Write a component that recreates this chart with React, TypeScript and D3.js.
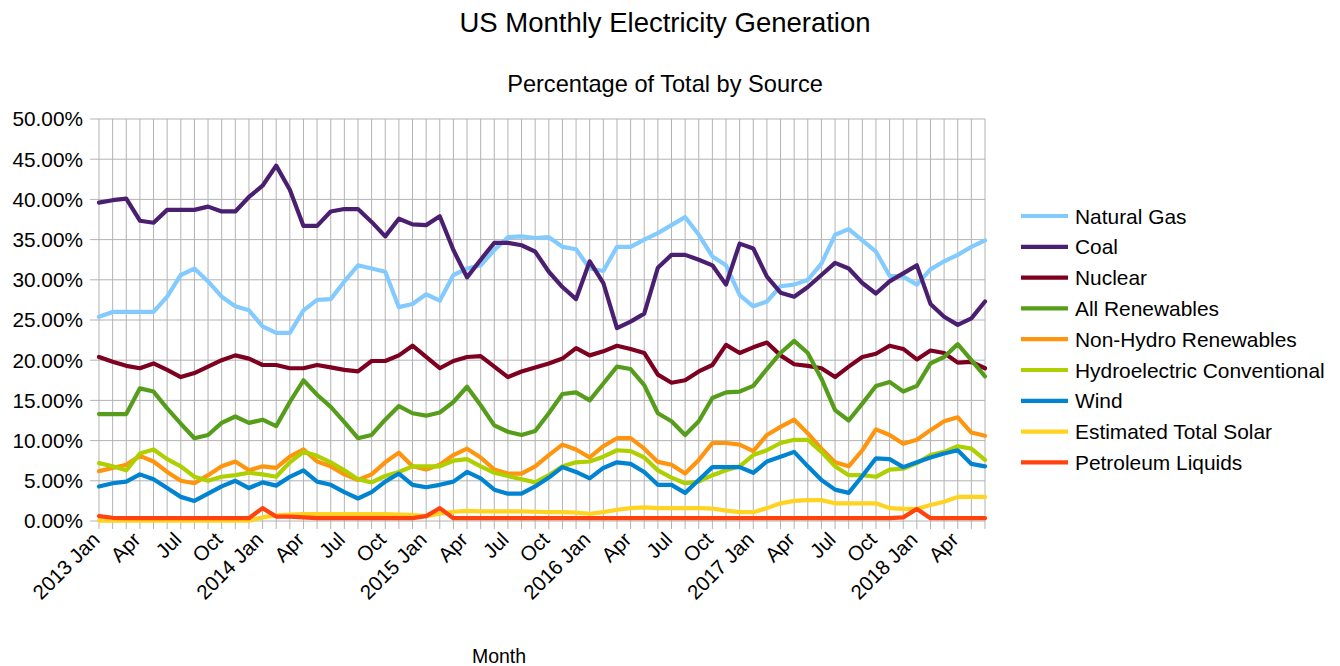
import React from "react";
import * as d3 from "d3";

const YEARS = [2013, 2014, 2015, 2016, 2017, 2018];
const MONTH_NAMES = ["Jan", "Feb", "Mar", "Apr", "May", "Jun", "Jul", "Aug", "Sep", "Oct", "Nov", "Dec"];
const categories: string[] = [];
YEARS.forEach((y) => MONTH_NAMES.forEach((m, mi) => {
  if (y === 2018 && mi > 5) return;
  categories.push(`${y} ${m}`);
}));

const yTicks = [0, 5, 10, 15, 20, 25, 30, 35, 40, 45, 50];

const naturalGas = [25.4, 26.0, 26.0, 26.0, 26.0, 27.9, 30.6, 31.4, 29.8, 27.9, 26.7, 26.2, 24.2, 23.4, 23.4, 26.2, 27.5, 27.6, 29.8, 31.8, 31.4, 31.0, 26.6, 27.0, 28.2, 27.4, 30.6, 31.4, 31.8, 33.7, 35.3, 35.4, 35.2, 35.3, 34.1, 33.8, 31.4, 31.1, 34.1, 34.1, 35.0, 35.8, 36.8, 37.8, 35.6, 32.9, 31.8, 28.1, 26.7, 27.3, 29.2, 29.4, 30.0, 32.0, 35.6, 36.3, 34.9, 33.5, 30.5, 30.4, 29.4, 31.3, 32.3, 33.1, 34.1, 34.9];
const coal = [39.6, 39.9, 40.1, 37.35, 37.1, 38.7, 38.7, 38.7, 39.1, 38.5, 38.5, 40.3, 41.7, 44.2, 41.2, 36.7, 36.7, 38.5, 38.8, 38.8, 37.2, 35.4, 37.6, 36.9, 36.8, 37.9, 33.7, 30.3, 32.5, 34.6, 34.6, 34.3, 33.5, 31.0, 29.1, 27.6, 32.3, 29.6, 24.0, 24.8, 25.8, 31.5, 33.1, 33.1, 32.5, 31.8, 29.4, 34.5, 33.9, 30.4, 28.4, 27.9, 29.1, 30.6, 32.1, 31.4, 29.6, 28.3, 29.8, 30.8, 31.8, 27.0, 25.4, 24.4, 25.2, 27.3];
const nuclear = [20.4, 19.8, 19.3, 19.0, 19.6, 18.8, 17.9, 18.4, 19.2, 20.0, 20.6, 20.2, 19.4, 19.4, 19.0, 19.0, 19.4, 19.1, 18.8, 18.6, 19.9, 19.9, 20.6, 21.8, 20.4, 19.0, 19.9, 20.4, 20.5, 19.2, 17.9, 18.6, 19.1, 19.6, 20.2, 21.5, 20.6, 21.1, 21.8, 21.4, 20.9, 18.2, 17.2, 17.5, 18.6, 19.4, 21.9, 20.9, 21.6, 22.2, 20.6, 19.5, 19.3, 19.0, 17.9, 19.2, 20.4, 20.8, 21.8, 21.4, 20.1, 21.2, 20.9, 19.7, 19.8, 19.0];
const allRenewables = [13.3, 13.3, 13.3, 16.5, 16.1, 14.0, 12.1, 10.3, 10.7, 12.2, 13.0, 12.2, 12.6, 11.8, 14.8, 17.5, 15.7, 14.2, 12.3, 10.3, 10.7, 12.6, 14.3, 13.4, 13.1, 13.5, 14.8, 16.7, 14.4, 11.9, 11.1, 10.7, 11.2, 13.4, 15.8, 16.0, 15.0, 17.1, 19.2, 18.9, 16.9, 13.4, 12.4, 10.7, 12.4, 15.3, 16.0, 16.1, 16.8, 18.9, 20.9, 22.4, 20.9, 17.7, 13.8, 12.5, 14.6, 16.8, 17.3, 16.1, 16.8, 19.6, 20.4, 22.0, 20.0, 18.0];
const nonHydro = [6.2, 6.6, 7.0, 8.1, 7.4, 6.1, 5.0, 4.7, 5.7, 6.8, 7.4, 6.3, 6.8, 6.6, 8.0, 8.9, 7.4, 6.8, 5.8, 5.1, 5.8, 7.3, 8.5, 6.8, 6.4, 7.0, 8.2, 9.0, 7.9, 6.4, 5.9, 5.9, 6.8, 8.2, 9.5, 8.9, 7.9, 9.3, 10.3, 10.3, 9.0, 7.35, 7.0, 5.9, 7.6, 9.7, 9.7, 9.5, 8.7, 10.7, 11.7, 12.6, 10.9, 9.0, 7.3, 6.8, 8.8, 11.4, 10.7, 9.6, 10.1, 11.3, 12.4, 12.9, 11.0, 10.6];
const hydro = [7.2, 6.8, 6.3, 8.4, 8.9, 7.7, 6.8, 5.5, 5.0, 5.5, 5.7, 6.0, 5.8, 5.5, 7.3, 8.6, 8.1, 7.3, 6.3, 5.2, 4.8, 5.6, 6.1, 6.8, 6.8, 6.8, 7.5, 7.7, 6.8, 6.0, 5.6, 5.2, 4.8, 5.7, 6.8, 7.3, 7.4, 8.0, 8.8, 8.7, 7.9, 6.3, 5.4, 4.7, 4.9, 5.7, 6.3, 6.8, 8.2, 8.8, 9.7, 10.1, 10.1, 8.6, 6.8, 5.7, 5.7, 5.5, 6.4, 6.5, 7.2, 8.2, 8.6, 9.3, 9.0, 7.6];
const wind = [4.3, 4.7, 4.9, 5.8, 5.2, 4.1, 3.0, 2.5, 3.4, 4.3, 5.0, 4.1, 4.8, 4.4, 5.5, 6.3, 4.9, 4.5, 3.6, 2.8, 3.6, 4.9, 5.9, 4.5, 4.2, 4.5, 4.9, 6.1, 5.3, 3.9, 3.4, 3.4, 4.3, 5.4, 6.7, 6.1, 5.3, 6.6, 7.3, 7.1, 6.1, 4.5, 4.5, 3.5, 5.1, 6.7, 6.7, 6.7, 6.0, 7.4, 8.0, 8.6, 6.8, 5.1, 3.9, 3.5, 5.6, 7.8, 7.7, 6.7, 7.3, 7.9, 8.4, 8.8, 7.1, 6.8];
const solar = [0.05, 0.05, 0.05, 0.05, 0.05, 0.05, 0.05, 0.05, 0.05, 0.05, 0.05, 0.05, 0.45, 0.7, 0.8, 0.85, 0.85, 0.85, 0.85, 0.85, 0.85, 0.85, 0.8, 0.75, 0.6, 0.9, 1.15, 1.25, 1.2, 1.2, 1.2, 1.2, 1.15, 1.1, 1.1, 1.05, 0.9, 1.1, 1.4, 1.6, 1.7, 1.6, 1.6, 1.6, 1.6, 1.55, 1.3, 1.1, 1.1, 1.6, 2.2, 2.5, 2.6, 2.6, 2.2, 2.2, 2.2, 2.2, 1.6, 1.5, 1.5, 2.0, 2.4, 3.0, 3.0, 3.0];
const petroleum = [0.6, 0.4, 0.35, 0.35, 0.35, 0.35, 0.35, 0.35, 0.35, 0.35, 0.35, 0.35, 1.6, 0.55, 0.55, 0.45, 0.35, 0.35, 0.35, 0.35, 0.35, 0.35, 0.35, 0.35, 0.6, 1.6, 0.35, 0.35, 0.35, 0.35, 0.35, 0.35, 0.35, 0.35, 0.35, 0.35, 0.35, 0.35, 0.35, 0.35, 0.35, 0.35, 0.35, 0.35, 0.35, 0.35, 0.35, 0.35, 0.35, 0.35, 0.35, 0.35, 0.35, 0.35, 0.35, 0.35, 0.35, 0.35, 0.35, 0.45, 1.5, 0.35, 0.35, 0.35, 0.35, 0.35];

const seriesNames = ["Natural Gas", "Coal", "Nuclear", "All Renewables", "Non-Hydro Renewables", "Hydroelectric Conventional", "Wind", "Estimated Total Solar", "Petroleum Liquids"];
const seriesValues = [naturalGas, coal, nuclear, allRenewables, nonHydro, hydro, wind, solar, petroleum];
const seriesColors = ["#83caff", "#4b1f6f", "#7e0021", "#579d1c", "#ff950e", "#aecf00", "#0084d1", "#ffd320", "#ff420e"];

const FONT = "'Liberation Sans', Arial, sans-serif";

export default function App() {
  const left = 99, right = 985, top = 119, bottom = 521;
  const x = d3.scalePoint<string>().domain(categories).range([left, right]);
  const y = d3.scaleLinear().domain([0, 50]).range([bottom, top]);
  const line = d3.line<number>()
    .x((_, i) => x(categories[i]) as number)
    .y((d) => y(d));

  const tickLabel = (c: string) => {
    const m = c.split(" ")[1];
    return m === "Jan" ? c : m;
  };

  return (
    <svg width={1340} height={666} style={{ position: "absolute", left: 0, top: 0, background: "#fff" }} fontFamily={FONT}>
      <text x={665} y={32} textAnchor="middle" fontSize={27.5} fill="#000">US Monthly Electricity Generation</text>
      <text x={665} y={92} textAnchor="middle" fontSize={23.6} fill="#000">Percentage of Total by Source</text>

      {yTicks.map((t) => (
        <line key={"h" + t} x1={left - 9} x2={right} y1={y(t)} y2={y(t)} stroke="#b3b3b3" strokeWidth={1} />
      ))}
      {categories.map((c) => (
        <line key={"v" + c} x1={x(c)} x2={x(c)} y1={top} y2={bottom + 8} stroke="#b3b3b3" strokeWidth={1} />
      ))}

      {yTicks.map((t) => (
        <text key={"yl" + t} x={83} y={y(t)} dy="0.36em" textAnchor="end" fontSize={20.8} fill="#000">{t.toFixed(2) + "%"}</text>
      ))}

      {categories.map((c, i) => (i % 3 === 0 ? (
        <text key={"xl" + c} transform={`translate(${(x(c) as number) + 2},${bottom + 20}) rotate(-45)`} textAnchor="end" fontSize={20.5} fill="#000">{tickLabel(c)}</text>
      ) : null))}

      <text x={499} y={663} textAnchor="middle" fontSize={19.5} fill="#000">Month</text>

      {seriesValues.map((vals, si) => (
        <path key={"s" + si} d={line(vals) || ""} fill="none" stroke={seriesColors[si]} strokeWidth={4.2} strokeLinejoin="round" strokeLinecap="round" />
      ))}

      {seriesNames.map((n, si) => {
        const ly = 216 + si * 30.8;
        return (
          <g key={"lg" + si}>
            <line x1={1021} x2={1068} y1={ly} y2={ly} stroke={seriesColors[si]} strokeWidth={4.2} />
            <text x={1075} y={ly} dy="0.36em" fontSize={20.9} fill="#000">{n}</text>
          </g>
        );
      })}
    </svg>
  );
}
